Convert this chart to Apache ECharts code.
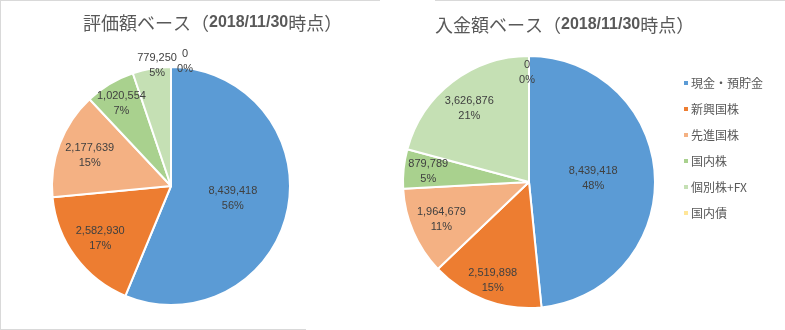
<!DOCTYPE html>
<html>
<head>
<meta charset="utf-8">
<script src="https://cdn.jsdelivr.net/npm/echarts@6/dist/echarts.min.js"></script>
<style>
html,body{margin:0;padding:0;background:#fff;}
#c{width:785px;height:330px;}
</style>
</head>
<body>
<div id="c"></div>
<script>
// ---- data ----
var categories = ['現金・預貯金', '新興国株', '先進国株', '国内株', '個別株+FX', '国内債'];
var valuationValues = [8439418, 2582930, 2177639, 1020554, 779250, 0];
var depositValues = [8439418, 2519898, 1964679, 879789, 3626876, 0];
var leftTitle = ['評価額ベース（', '2018/11/30', '時点）'];
var rightTitle = ['入金額ベース（', '2018/11/30', '時点）'];

// ---- styles ----
var colors = ['#5B9BD5', '#ED7D31', '#F4B183', '#A9D18E', '#C5E0B4', '#FFE699'];
var leftPie = {cx: 171, cy: 186, r: 119, labelR: [0.53, 0.74, 0.73, 0.81, 1.03, 1.05], labelDx: [0, 0, 0, 0, 6, 14]};
var rightPie = {cx: 529, cy: 182, r: 126, labelR: [0.51, 0.83, 0.74, 0.82, 0.74, 0.87], labelDx: [0, 0, -2, 2, -3, -2]};

function makeData(vals) {
  return categories.map(function (n, i) { return {name: n, value: vals[i]}; });
}
function makeLayout(p) {
  return function (params) {
    var lr = params.labelRect;
    var lx = lr.x + lr.width / 2, ly = lr.y + lr.height / 2;
    var vx = lx - p.cx, vy = ly - p.cy;
    var d = Math.sqrt(vx * vx + vy * vy) || 1;
    var target = p.labelR[params.dataIndex] * p.r;
    return {dx: vx / d * target - vx + p.labelDx[params.dataIndex], dy: vy / d * target - vy};
  };
}
function makeSeries(name, vals, p) {
  return {
    type: 'pie',
    name: name,
    center: [p.cx, p.cy],
    radius: [0, p.r],
    startAngle: 90,
    clockwise: true,
    percentPrecision: 0,
    avoidLabelOverlap: false,
    data: makeData(vals),
    itemStyle: {borderColor: '#fff', borderWidth: 2},
    label: {
      position: 'inside',
      color: '#404040',
      fontFamily: 'Liberation Sans, Arial, sans-serif',
      fontSize: 11,
      lineHeight: 15,
      formatter: function (prm) {
        return prm.value.toLocaleString('en-US') + '\n' + prm.percent + '%';
      }
    },
    labelLine: {show: false},
    labelLayout: makeLayout(p),
    emphasis: {disabled: true},
    silent: true
  };
}
function titleText(t) {
  return '{a|' + t[0] + '}{b|' + t[1] + '}{a|' + t[2] + '}';
}
var titleRich = {
  a: {fontFamily: 'Noto Sans CJK JP', fontWeight: 'normal', fontSize: 18, color: '#595959', lineHeight: 22},
  b: {fontFamily: 'Liberation Sans, Arial', fontWeight: 'bold', fontSize: 16, color: '#595959', lineHeight: 22}
};

var chart = echarts.init(document.getElementById('c'), null, {renderer: 'canvas'});
chart.setOption({
  animation: false,
  backgroundColor: '#fff',
  color: colors,
  title: [
    {text: titleText(leftTitle), left: 83, top: 12, padding: 0, textStyle: {fontWeight: 'normal', rich: titleRich}},
    {text: titleText(rightTitle), left: 435, top: 14, padding: 0, textStyle: {fontWeight: 'normal', rich: titleRich}}
  ],
  legend: {
    orient: 'vertical',
    left: 677,
    top: 71,
    icon: 'rect',
    itemWidth: 6,
    itemHeight: 6,
    itemGap: 12,
    selectedMode: false,
    data: categories,
    textStyle: {fontFamily: 'Noto Sans CJK JP', fontSize: 12, color: '#595959', lineHeight: 14, padding: [0, 0, 0, -3]}
  },
  graphic: [
    {type: 'line', shape: {x1: 0.5, y1: 0, x2: 0.5, y2: 330}, style: {stroke: '#D9D9D9', lineWidth: 1}, silent: true},
    {type: 'line', shape: {x1: 0, y1: 0.5, x2: 380, y2: 0.5}, style: {stroke: '#D9D9D9', lineWidth: 1}, silent: true},
    {type: 'line', shape: {x1: 0, y1: 329.5, x2: 306, y2: 329.5}, style: {stroke: '#D9D9D9', lineWidth: 1}, silent: true},
    {type: 'line', shape: {x1: 435, y1: 0.5, x2: 785, y2: 0.5}, style: {stroke: '#D9D9D9', lineWidth: 1}, silent: true}
  ],
  series: [
    makeSeries('評価額', valuationValues, leftPie),
    makeSeries('入金額', depositValues, rightPie)
  ]
});
</script>
</body>
</html>
